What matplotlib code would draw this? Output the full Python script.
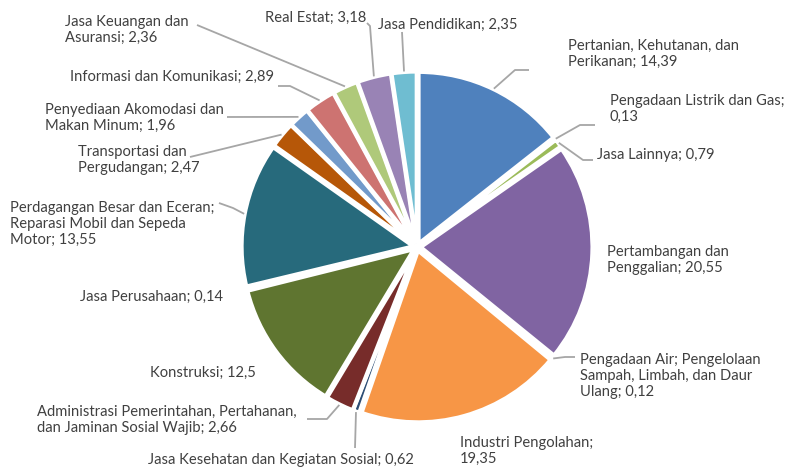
import textwrap
import numpy as np
import matplotlib
matplotlib.use("Agg")
import matplotlib.pyplot as plt

# ---------------- data ----------------
categories = [
    "Pertanian, Kehutanan, dan Perikanan",
    "Pengadaan Listrik dan Gas",
    "Jasa Lainnya",
    "Pertambangan dan Penggalian",
    "Pengadaan Air; Pengelolaan Sampah, Limbah, dan Daur Ulang",
    "Industri Pengolahan",
    "Jasa Kesehatan dan Kegiatan Sosial",
    "Administrasi Pemerintahan, Pertahanan, dan Jaminan Sosial Wajib",
    "Konstruksi",
    "Jasa Perusahaan",
    "Perdagangan Besar dan Eceran; Reparasi Mobil dan Sepeda Motor",
    "Transportasi dan Pergudangan",
    "Penyediaan Akomodasi dan Makan Minum",
    "Informasi dan Komunikasi",
    "Jasa Keuangan dan Asuransi",
    "Real Estat",
    "Jasa Pendidikan",
]
values = [14.39, 0.13, 0.79, 20.55, 0.12, 19.35, 0.62, 2.66, 12.5, 0.14,
          13.55, 2.47, 1.96, 2.89, 2.36, 3.18, 2.35]

# ---------------- style / layout ----------------
colors = ["#4F81BD", "#C0504D", "#9BBB59", "#8064A2", "#4BACC6", "#F79646",
          "#2C4D75", "#772C2A", "#5F7530", "#4D3B62", "#276A7C", "#B65708",
          "#729ACA", "#CD7371", "#AFC97A", "#9983B5", "#6FBDD1"]
wrap_w = [26, 27, 99, 17, 26, 20, 99, 38, 99, 99, 29, 17, 24, 99, 17, 99, 99]
# label anchor (left x, centre y) in pixel coords (y from top)
label_pos = [(568, 54), (610, 109), (597, 155), (607, 260), (580, 376),
             (460, 451), (148, 460), (37, 420), (150, 373), (80, 297),
             (10, 224), (78, 160), (45, 118), (70, 77), (65, 30),
             (265, 18), (378, 25)]
# leader line extra points (pixel coords, y from top); None = no leader
leaders = [
    [(515, 70), (529, 70)],
    [(580, 125), (595, 125)],
    [(583, 160), (593, 160)],
    None,
    [(565, 357), (575, 357)],
    None,
    [(355, 448)],
    [(327, 419), (307, 419)],
    None,
    None,
    [(233, 208), (219, 203)],
    [(190, 157)],
    [(227, 117)],
    [(290, 86), (278, 86)],
    [(197, 25)],
    [(370, 26), (367, 23)],
    [(402, 32)],
]

W, H = 788, 471
cx, cy, R = 417, 247, 172
text_color = "#404040"
line_color = "#A6A6A6"

fig = plt.figure(figsize=(W / 100, H / 100), dpi=100)
ax = fig.add_axes([0, 0, 1, 1])

wedges, _ = ax.pie(values, colors=colors, startangle=90, counterclock=False,
                   center=(cx, H - cy), radius=R, explode=[3.5] * len(values),
                   wedgeprops=dict(edgecolor="white", linewidth=3),
                   frame=True)
ax.set_xlim(0, W)
ax.set_ylim(0, H)
ax.axis("off")

font = dict(family="Lato", size=10.6, color=text_color)

for i, (name, v) in enumerate(zip(categories, values)):
    vs = ("%g" % v).replace(".", ",")
    lab = textwrap.fill(f"{name}; {vs}", width=wrap_w[i])
    x, y = label_pos[i]
    ax.text(x, H - y, lab, ha="left", va="center", linespacing=1.2, **font)
    if leaders[i] is not None:
        w = wedges[i]
        ang = np.deg2rad((w.theta1 + w.theta2) / 2)
        sx = cx + (R + 4) * np.cos(ang)
        sy = (H - cy) + (R + 4) * np.sin(ang)
        xs = [sx] + [p[0] for p in leaders[i]]
        ys = [sy] + [H - p[1] for p in leaders[i]]
        ax.plot(xs, ys, color=line_color, lw=1.3, solid_capstyle="butt")

fig.savefig("out.png", dpi=100)
